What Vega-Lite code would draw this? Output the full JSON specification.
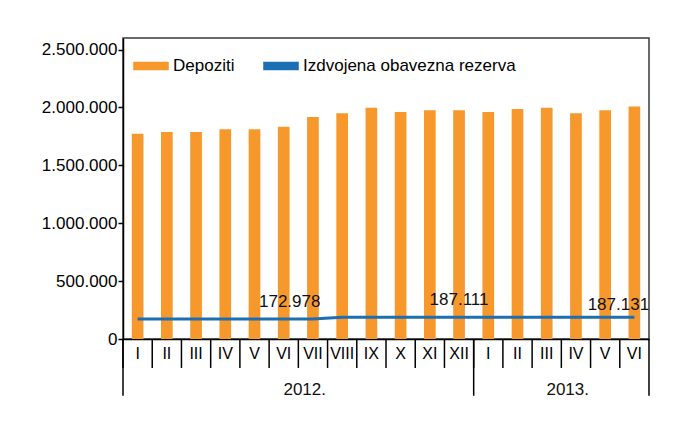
{
  "$schema": "https://vega.github.io/schema/vega-lite/v6.json",
  "width": 526,
  "height": 301,
  "padding": {"left": 41, "top": 38, "right": 27, "bottom": 5},
  "background": "white",
  "config": {
    "view": {"stroke": "#3a3a3a", "strokeWidth": 1.5}
  },
  "layer": [
    {
      "data": {"values": [
        {"m": "2012 I", "v": 1773000, "s": "Depoziti"},
        {"m": "2012 II", "v": 1787000, "s": "Depoziti"},
        {"m": "2012 III", "v": 1787000, "s": "Depoziti"},
        {"m": "2012 IV", "v": 1811000, "s": "Depoziti"},
        {"m": "2012 V", "v": 1811000, "s": "Depoziti"},
        {"m": "2012 VI", "v": 1834000, "s": "Depoziti"},
        {"m": "2012 VII", "v": 1917000, "s": "Depoziti"},
        {"m": "2012 VIII", "v": 1949000, "s": "Depoziti"},
        {"m": "2012 IX", "v": 1997000, "s": "Depoziti"},
        {"m": "2012 X", "v": 1961000, "s": "Depoziti"},
        {"m": "2012 XI", "v": 1975000, "s": "Depoziti"},
        {"m": "2012 XII", "v": 1975000, "s": "Depoziti"},
        {"m": "2013 I", "v": 1961000, "s": "Depoziti"},
        {"m": "2013 II", "v": 1986000, "s": "Depoziti"},
        {"m": "2013 III", "v": 1997000, "s": "Depoziti"},
        {"m": "2013 IV", "v": 1950000, "s": "Depoziti"},
        {"m": "2013 V", "v": 1975000, "s": "Depoziti"},
        {"m": "2013 VI", "v": 2008000, "s": "Depoziti"}
      ]},
      "mark": {"type": "bar"},
      "encoding": {
        "x": {"field": "m", "type": "nominal", "title": null, "sort": null,
          "scale": {"paddingInner": 0.6, "paddingOuter": 0.3},
          "axis": {"labelExpr": "slice(datum.value, 5)", "ticks": false, "domainColor": "black", "domainWidth": 1.5,
            "labelAngle": 0, "labelFont": "Liberation Sans", "labelFontSize": 16, "labelPadding": 6, "labelColor": "black"}},
        "y": {"field": "v", "type": "quantitative", "title": null, "scale": {"domain": [0, 2500000]},
          "axis": {"values": [0, 500000, 1000000, 1500000, 2000000, 2500000],
            "labelExpr": "replace(replace(format(datum.value, ','), ',', '.'), ',', '.')",
            "grid": false, "tickSize": 5, "tickWidth": 1.5, "tickColor": "black", "domainColor": "black",
            "domainWidth": 1.5, "labelFont": "Liberation Sans", "labelFontSize": 17, "labelPadding": 1, "labelColor": "black"}},
        "color": {"field": "s", "type": "nominal", "title": null,
          "scale": {"domain": ["Depoziti", "Izdvojena obavezna rezerva"], "range": ["#F7982C", "#1C6FB3"]},
          "legend": {"orient": "top-left", "offset": 10, "direction": "horizontal", "labelFont": "Liberation Sans",
            "labelFontSize": 17, "labelColor": "black", "labelOffset": 4, "columnPadding": 26, "labelLimit": 400,
            "symbolType": "M-1,-0.2H1V0.2H-1Z", "symbolSize": 1156}}
      }
    },
    {
      "data": {"values": [
        {"m": "2012 I", "v": 172978, "s": "Izdvojena obavezna rezerva"},
        {"m": "2012 II", "v": 172978, "s": "Izdvojena obavezna rezerva"},
        {"m": "2012 III", "v": 172978, "s": "Izdvojena obavezna rezerva"},
        {"m": "2012 IV", "v": 172978, "s": "Izdvojena obavezna rezerva"},
        {"m": "2012 V", "v": 172978, "s": "Izdvojena obavezna rezerva"},
        {"m": "2012 VI", "v": 172978, "s": "Izdvojena obavezna rezerva"},
        {"m": "2012 VII", "v": 172978, "s": "Izdvojena obavezna rezerva"},
        {"m": "2012 VIII", "v": 187100, "s": "Izdvojena obavezna rezerva"},
        {"m": "2012 IX", "v": 187105, "s": "Izdvojena obavezna rezerva"},
        {"m": "2012 X", "v": 187108, "s": "Izdvojena obavezna rezerva"},
        {"m": "2012 XI", "v": 187110, "s": "Izdvojena obavezna rezerva"},
        {"m": "2012 XII", "v": 187111, "s": "Izdvojena obavezna rezerva"},
        {"m": "2013 I", "v": 187115, "s": "Izdvojena obavezna rezerva"},
        {"m": "2013 II", "v": 187118, "s": "Izdvojena obavezna rezerva"},
        {"m": "2013 III", "v": 187120, "s": "Izdvojena obavezna rezerva"},
        {"m": "2013 IV", "v": 187124, "s": "Izdvojena obavezna rezerva"},
        {"m": "2013 V", "v": 187128, "s": "Izdvojena obavezna rezerva"},
        {"m": "2013 VI", "v": 187131, "s": "Izdvojena obavezna rezerva"}
      ]},
      "mark": {"type": "line", "strokeWidth": 3},
      "encoding": {
        "x": {"field": "m", "type": "nominal", "sort": null, "title": null},
        "y": {"field": "v", "type": "quantitative", "title": null},
        "color": {"field": "s", "type": "nominal", "title": null}
      }
    },
    {
      "data": {"values": [
        {"m": "2012 I"}, {"m": "2012 II"}, {"m": "2012 III"}, {"m": "2012 IV"}, {"m": "2012 V"}, {"m": "2012 VI"},
        {"m": "2012 VII"}, {"m": "2012 VIII"}, {"m": "2012 IX"}, {"m": "2012 X"}, {"m": "2012 XI"}, {"m": "2012 XII"},
        {"m": "2013 I"}, {"m": "2013 II"}, {"m": "2013 III"}, {"m": "2013 IV"}, {"m": "2013 V"}, {"m": "2013 VI"}
      ]},
      "mark": {"type": "rule", "color": "black", "strokeWidth": 1.5, "xOffset": -14.6},
      "encoding": {
        "x": {"field": "m", "type": "nominal", "sort": null, "title": null},
        "y": {"datum": 0, "type": "quantitative", "title": null},
        "y2": {"datum": -250000}
      }
    },
    {
      "data": {"values": [{"m": "2012 I"}, {"m": "2013 I"}]},
      "mark": {"type": "rule", "color": "black", "strokeWidth": 1.5, "xOffset": -14.6},
      "encoding": {
        "x": {"field": "m", "type": "nominal", "sort": null, "title": null},
        "y": {"datum": 0, "type": "quantitative", "title": null},
        "y2": {"datum": -490000}
      }
    },
    {
      "data": {"values": [{"m": "2013 VI"}]},
      "mark": {"type": "rule", "color": "black", "strokeWidth": 1.5, "xOffset": 14.6},
      "encoding": {
        "x": {"field": "m", "type": "nominal", "sort": null, "title": null},
        "y": {"datum": 0, "type": "quantitative", "title": null},
        "y2": {"datum": -490000}
      }
    },
    {
      "data": {"values": [{"m": "2012 VI", "v": 172978, "t": "172.978"}]},
      "mark": {"type": "text", "font": "Liberation Sans", "fontSize": 17, "baseline": "alphabetic", "dy": -12, "dx": 6, "color": "#111"},
      "encoding": {
        "x": {"field": "m", "type": "nominal", "sort": null, "title": null},
        "y": {"field": "v", "type": "quantitative", "title": null},
        "text": {"field": "t", "type": "nominal"}
      }
    },
    {
      "data": {"values": [{"m": "2012 XII", "v": 187111, "t": "187.111"}]},
      "mark": {"type": "text", "font": "Liberation Sans", "fontSize": 17, "baseline": "alphabetic", "dy": -12, "color": "#111"},
      "encoding": {
        "x": {"field": "m", "type": "nominal", "sort": null, "title": null},
        "y": {"field": "v", "type": "quantitative", "title": null},
        "text": {"field": "t", "type": "nominal"}
      }
    },
    {
      "data": {"values": [{"m": "2013 VI", "v": 187131, "t": "187.131"}]},
      "mark": {"type": "text", "font": "Liberation Sans", "fontSize": 17, "baseline": "alphabetic", "dy": -7, "dx": -16, "color": "#111"},
      "encoding": {
        "x": {"field": "m", "type": "nominal", "sort": null, "title": null},
        "y": {"field": "v", "type": "quantitative", "title": null},
        "text": {"field": "t", "type": "nominal"}
      }
    },
    {
      "data": {"values": [{"m": "2012 VI", "t": "2012."}, {"m": "2013 III", "t": "2013."}]},
      "mark": {"type": "text", "font": "Liberation Sans", "fontSize": 17, "baseline": "middle", "dx": 21, "color": "#111"},
      "encoding": {
        "x": {"field": "m", "type": "nominal", "sort": null, "title": null},
        "y": {"datum": -440000, "type": "quantitative", "title": null},
        "text": {"field": "t", "type": "nominal"}
      }
    }
  ]
}
